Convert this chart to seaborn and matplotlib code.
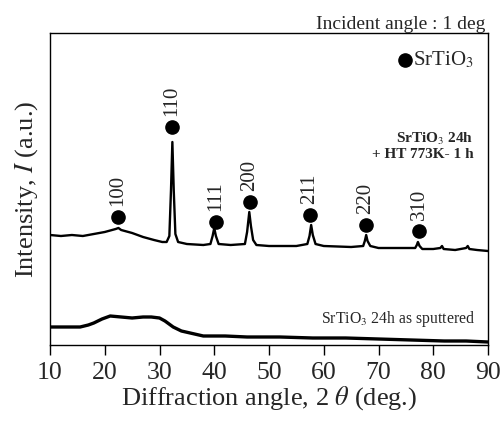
import matplotlib
matplotlib.use('Agg')
import matplotlib.pyplot as plt
import seaborn as sns
import pandas as pd

# annealed film: 2theta (deg) and intensity (a.u.)
ANNEAL_ANGLE = [10, 12, 14, 16, 18, 20, 22, 22.5, 23, 25, 27, 29, 30.5, 31.3, 31.8, 32.1,
                32.35, 32.6, 32.9, 33.4, 35, 38, 39.3, 39.7, 40.0, 40.3, 40.8, 43, 45.6,
                46.0, 46.4, 46.7, 47.1, 47.7, 50, 55, 57.0, 57.4, 57.7, 58.0, 58.5, 60, 65,
                67.2, 67.5, 67.75, 68.0, 68.5, 70, 75, 76.7, 77.0, 77.2, 77.5, 78, 80, 81.3,
                81.6, 81.9, 84, 86, 86.3, 86.6, 88, 90]
ANNEAL_INT = [110, 109, 110, 109, 111, 113, 116, 117, 115, 112, 108, 105, 103, 103, 109, 155,
              203, 155, 111, 103, 101, 100, 101, 109, 117, 109, 101, 100, 101,
              113, 133, 119, 105, 100, 99, 99, 101, 109, 120, 110, 101, 99, 98,
              99, 104, 110, 104, 99, 97, 97, 97, 100, 103, 99, 96, 96, 97,
              99, 96, 95, 97, 99, 96, 95, 94]

# as-sputtered film
SPUT_ANGLE = [10, 13, 15.5, 17, 18, 19.5, 21, 23, 25, 27, 28.5, 30, 31, 32.5, 34, 35.6,
              38, 42, 46, 52, 58, 64, 70, 76, 82, 86, 90]
SPUT_INT = [18, 18, 18, 20, 22, 26, 29, 28, 27, 28, 28, 27, 24, 18, 14, 12,
            9, 9, 8, 8, 7, 7, 6, 5, 4, 4, 3]

# SrTiO3 reflections: marker position and label
PEAK_ANGLE = [22.4, 32.3, 40.3, 46.5, 57.5, 67.7, 77.4]
PEAK_MARK = [128, 218, 123, 143, 130, 120, 114]
PEAK_HKL = ['100', '110', '111', '200', '211', '220', '310']

sns.set_theme(style='white')
plt.rcParams['font.family'] = ['Liberation Serif', 'DejaVu Serif']
plt.rcParams['mathtext.fontset'] = 'stix'

fig = plt.figure(figsize=(5.03, 4.21), dpi=100)
ax = fig.add_axes([50 / 503, 1 - 345 / 421, 438 / 503, 312 / 421])

anneal = pd.DataFrame({'angle': ANNEAL_ANGLE, 'intensity': ANNEAL_INT})
sput = pd.DataFrame({'angle': SPUT_ANGLE, 'intensity': SPUT_INT})
sns.lineplot(data=anneal, x='angle', y='intensity', color='black', lw=1.7, ax=ax)
sns.lineplot(data=sput, x='angle', y='intensity', color='black', lw=2.4, ax=ax)

ax.plot(PEAK_ANGLE, PEAK_MARK, 'o', color='black', ms=9.5, ls='none')
for a, m, hkl in zip(PEAK_ANGLE, PEAK_MARK, PEAK_HKL):
    ax.annotate(hkl, (a, m), xytext=(0, 8), textcoords='offset points',
                rotation=90, ha='center', va='bottom', fontsize=15)

# legend-like marker
ax.plot([74.8], [285], 'o', color='black', ms=9.5)
ax.text(76.3, 285, 'SrTiO$_3$', fontsize=15, va='center', ha='left')

ax.text(87.3, 214, 'SrTiO$_3$ 24h\n+ HT 773K- 1 h', fontsize=11, fontweight='bold',
        ha='right', va='top', linespacing=1.1)
ax.text(87.6, 26, 'SrTiO$_3$ 24h as sputtered', fontsize=11.3, ha='right', va='center')

fig.text(485 / 503, 1 - 33 / 421, 'Incident angle : 1 deg', fontsize=14,
         ha='right', va='bottom')

ax.set_xlim(10, 90)
ax.set_ylim(0, 312)
ax.set_xticks(range(10, 91, 10))
ax.set_yticks([])
ax.tick_params(axis='x', direction='out', length=7, width=1, color='black',
               labelsize=18.5, pad=5, bottom=True)
ax.set_xlabel(r'Diffraction angle, 2 $\theta$ (deg.)', fontsize=19, labelpad=0)
ax.set_ylabel(r'Intensity, $I$ (a.u.)', fontsize=19, labelpad=7)
for s in ax.spines.values():
    s.set_color('black')
    s.set_linewidth(1)

fig.savefig('out.png', dpi=100)
